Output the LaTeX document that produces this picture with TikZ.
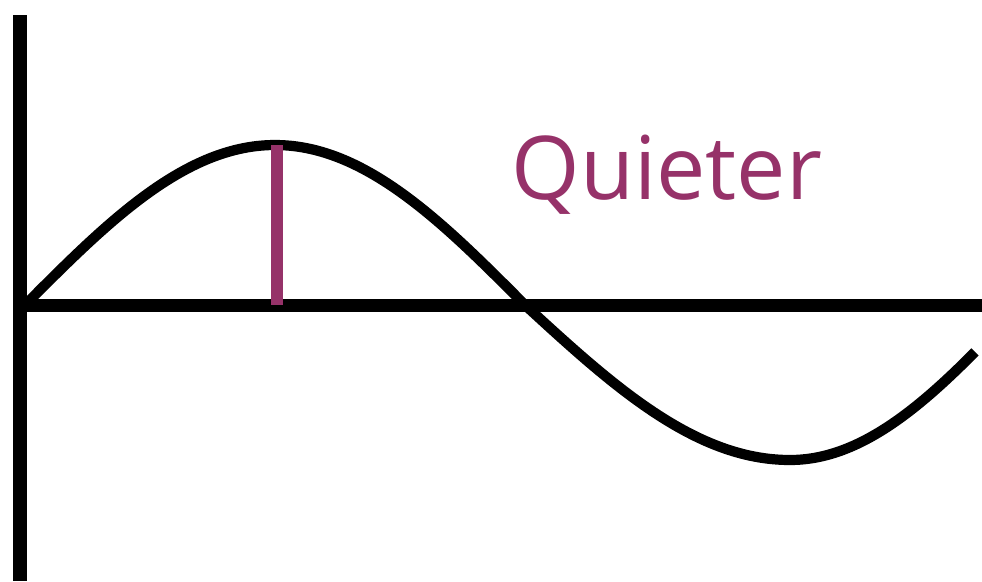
\documentclass[tikz,border=0pt]{standalone}
\usepackage{fontspec}
\setmainfont{Open Sans}
\usetikzlibrary{positioning}
\definecolor{quietPurple}{RGB}{150,50,105}
\tikzset{
    % Lines
    axisLine/.style={line width=3.7pt, black},
    waveLine/.style={line width=2.9pt, black, line join=round},
    ampLine/.style={line width=3.4pt, quietPurple},
    % Labels
    lbl/.style={text=quietPurple, font=\fontsize{25}{28}\selectfont, inner sep=0pt, anchor=base west}
}

\begin{document}
\begin{tikzpicture}[x=0.01cm, y=-0.01cm]
\useasboundingbox (0,0) rectangle (982,581);

\coordinate (yTop) at (20,15);
\coordinate (yBot) at (20,581);
\coordinate (xLeft) at (20,305);
\coordinate (xRight) at (982,305);
\coordinate (peak) at (277,145);
\coordinate (peakBase) at (277,305);

\draw[axisLine] (yTop) -- (yBot);
\draw[axisLine] (xLeft) -- (xRight);

% the wave: crest, then a slightly wider trough
\draw[waveLine] plot[domain=25:525, samples=80, smooth] (\x, {305-160*sin(0.36*(\x-25))})
    -- plot[domain=525:790, samples=40, smooth] (\x, {305-155*sin(180+0.3396*(\x-525))})
    -- plot[domain=790:975, samples=30, smooth] (\x, {305-155*sin(270+0.3913*(\x-790))});

\draw[ampLine] (peak) -- (peakBase);

\node[lbl] (quieter) at (511,199) {Quieter};

\end{tikzpicture}
\end{document}
